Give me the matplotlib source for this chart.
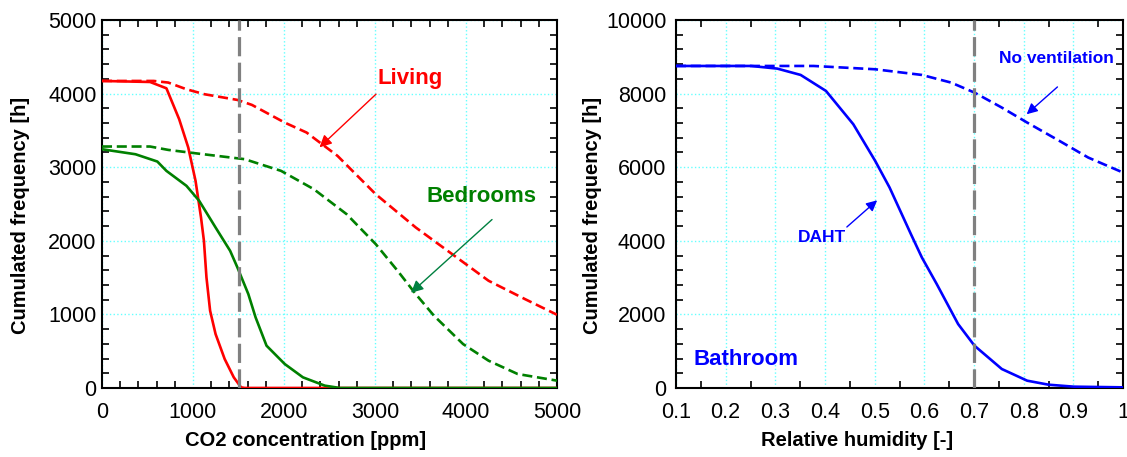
import matplotlib
matplotlib.use("Agg")
import matplotlib.pyplot as plt
from matplotlib.ticker import MultipleLocator, FixedLocator, FixedFormatter

plt.rcParams['font.family'] = ['Liberation Sans', 'DejaVu Sans']

# ---- Left chart data (CO2) ----
living_solid_x = [0, 528, 708, 848, 948, 1028, 1088, 1120, 1148, 1188, 1248, 1348, 1448, 1528, 1568, 5000]
living_solid_y = [4172, 4158, 4072, 3652, 3267, 2814, 2317, 2000, 1502, 1050, 733, 394, 145, 9, 0, 0]

living_dash_x = [0, 568, 728, 928, 1128, 1488, 1648, 2008, 2248, 2588, 3008, 3448, 3848, 4248, 4648, 5000]
living_dash_y = [4172, 4172, 4150, 4059, 3991, 3914, 3846, 3606, 3471, 3154, 2633, 2181, 1819, 1457, 1208, 995]

bed_solid_x = [0, 368, 608, 708, 928, 1068, 1248, 1408, 1488, 1608, 1688, 1808, 2008, 2208, 2448, 2568, 2608, 5000]
bed_solid_y = [3244, 3176, 3077, 2950, 2747, 2543, 2181, 1864, 1638, 1276, 959, 575, 326, 145, 32, 9, 0, 0]

bed_dash_x = [0, 528, 728, 1048, 1568, 1968, 2328, 2688, 3008, 3248, 3448, 3648, 3968, 4248, 4568, 5000]
bed_dash_y = [3281, 3281, 3235, 3186, 3109, 2950, 2701, 2362, 1955, 1593, 1276, 982, 597, 371, 190, 100]

co2_limit = 1500

# ---- Right chart data (RH) ----
daht_x = [0.1, 0.251, 0.304, 0.351, 0.402, 0.457, 0.501, 0.530, 0.573, 0.595, 0.625, 0.668, 0.701, 0.756, 0.807, 0.850, 0.901, 1.0]
daht_y = [8751, 8751, 8679, 8507, 8072, 7167, 6172, 5448, 4181, 3548, 2824, 1738, 1149, 516, 199, 90, 36, 18]

novent_x = [0.1, 0.377, 0.501, 0.595, 0.654, 0.701, 0.756, 0.807, 0.872, 0.930, 1.0]
novent_y = [8751, 8751, 8661, 8507, 8299, 8027, 7620, 7213, 6715, 6262, 5855]

rh_limit = 0.7

rh_ticks = [0.1, 0.2, 0.3, 0.4, 0.5, 0.6, 0.7, 0.8, 0.9, 1.0]
rh_tick_labels = ['0.1', '0.2', '0.3', '0.4', '0.5', '0.6', '0.7', '0.8', '0.9', '1']

RED = '#ff0000'
GREEN = '#008000'
BLUE = '#0000ff'
GRAY = '#808080'
GRIDC = '#66ffff'

fig = plt.figure(figsize=(11.27, 4.57), dpi=100)
ax1 = fig.add_axes([102/1127, 69/457, 455/1127, 368/457])
ax2 = fig.add_axes([676/1127, 69/457, 447/1127, 368/457])


def style(ax):
    for s in ax.spines.values():
        s.set_linewidth(1.5)
        s.set_color('black')
    ax.tick_params(which='both', direction='in', top=True, right=True, labelsize=15.5)
    ax.tick_params(axis='x', which='major', length=0, pad=10)
    ax.tick_params(axis='y', which='major', length=0, pad=4)
    ax.tick_params(which='minor', length=5, width=1.2)
    ax.grid(True, which='major', color=GRIDC, linestyle=':', linewidth=1.0)
    ax.set_axisbelow(True)


LW = 1.9
DASH = (3.8, 1.8)

# Left
ax1.plot(living_solid_x, living_solid_y, color=RED, lw=LW, zorder=3)
ax1.plot(living_dash_x, living_dash_y, color=RED, lw=LW, dashes=DASH, zorder=3)
ax1.plot(bed_solid_x, bed_solid_y, color=GREEN, lw=LW, zorder=3)
ax1.plot(bed_dash_x, bed_dash_y, color=GREEN, lw=LW, dashes=DASH, zorder=3)
ax1.axvline(co2_limit, color=GRAY, lw=2.3, dashes=(6, 2), zorder=4)
ax1.set_xlim(0, 5000)
ax1.set_ylim(0, 5000)
ax1.xaxis.set_major_locator(MultipleLocator(1000))
ax1.xaxis.set_minor_locator(MultipleLocator(200))
ax1.yaxis.set_major_locator(MultipleLocator(1000))
ax1.yaxis.set_minor_locator(MultipleLocator(200))
style(ax1)
ax1.set_xlabel('CO2 concentration [ppm]', fontsize=14.5, fontweight='bold')
ax1.set_ylabel('Cumulated frequency [h]', fontsize=14.5, fontweight='bold')
ax1.xaxis.set_label_coords(0.448, -0.142)
ax1.xaxis.label.set_va('center')
ax1.yaxis.set_label_coords(-0.180, 0.469)
ax1.yaxis.label.set_va('center')

ax1.text(3385, 4210, 'Living', color=RED, fontsize=16, fontweight='bold', ha='center', va='center')
ax1.annotate('', xy=(2390, 3270), xytext=(3011, 3992),
             arrowprops=dict(arrowstyle='-|>', color=RED, lw=1, mutation_scale=18, shrinkA=0, shrinkB=0))
ax1.text(4165, 2602, 'Bedrooms', color=GREEN, fontsize=16, fontweight='bold', ha='center', va='center')
ax1.annotate('', xy=(3396, 1294), xytext=(4286, 2289),
             arrowprops=dict(arrowstyle='-|>', color='#008040', lw=1, mutation_scale=18, shrinkA=0, shrinkB=0))

# Right
ax2.plot(daht_x, daht_y, color=BLUE, lw=LW, zorder=3)
ax2.plot(novent_x, novent_y, color=BLUE, lw=LW, dashes=DASH, zorder=3)
ax2.axvline(rh_limit, color=GRAY, lw=2.3, dashes=(6, 2), zorder=4)
ax2.set_xlim(0.1, 1.0)
ax2.set_ylim(0, 10000)
ax2.xaxis.set_major_locator(FixedLocator(rh_ticks))
ax2.xaxis.set_major_formatter(FixedFormatter(rh_tick_labels))
ax2.xaxis.set_minor_locator(MultipleLocator(0.05))
ax2.yaxis.set_major_locator(MultipleLocator(2000))
ax2.yaxis.set_minor_locator(MultipleLocator(400))
style(ax2)
ax2.tick_params(axis='y', which='major', pad=7)
ax2.set_xlabel('Relative humidity [-]', fontsize=14.5, fontweight='bold')
ax2.set_ylabel('Cumulated frequency [h]', fontsize=14.5, fontweight='bold')
ax2.xaxis.set_label_coords(0.405, -0.142)
ax2.xaxis.label.set_va('center')
ax2.yaxis.set_label_coords(-0.186, 0.469)
ax2.yaxis.label.set_va('center')

ax2.text(0.136, 787, 'Bathroom', color=BLUE, fontsize=16, fontweight='bold', ha='left', va='center')
ax2.text(0.865, 8959, 'No ventilation', color=BLUE, fontsize=12.5, fontweight='bold', ha='center', va='center')
ax2.annotate('', xy=(0.806, 7439), xytext=(0.868, 8181),
             arrowprops=dict(arrowstyle='-|>', color=BLUE, lw=1, mutation_scale=16, shrinkA=0, shrinkB=0))
ax2.text(0.394, 4100, 'DAHT', color=BLUE, fontsize=12.5, fontweight='bold', ha='center', va='center')
ax2.annotate('', xy=(0.505, 5100), xytext=(0.444, 4375),
             arrowprops=dict(arrowstyle='-|>', color=BLUE, lw=1, mutation_scale=16, shrinkA=0, shrinkB=0))

fig.savefig('out.png', dpi=100)
